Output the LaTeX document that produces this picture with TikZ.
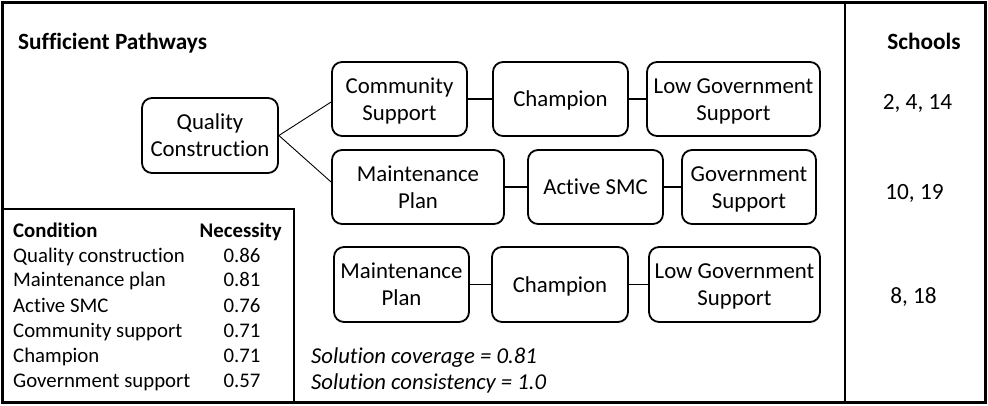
\documentclass[tikz,border=0pt]{standalone}
\usepackage{fontspec}
\setmainfont{Carlito}[Ligatures=NoCommon]
\newcommand\bs{\rule[-4.5pt]{0pt}{24.5pt}}
\begin{document}
\begin{tikzpicture}[x=1pt,y=-1pt,
  box/.style={draw, line width=1.8pt, rounded corners=10pt, align=center, inner sep=0pt,
    font=\fontsize{22.8}{27}\selectfont, minimum height=74pt},
  link/.style={line width=1.8pt},
  thinlink/.style={line width=0.9pt},
  frame/.style={line width=2.6pt},
  txt/.style={inner sep=0pt, font=\fontsize{20.8}{25}\selectfont},
  bigtxt/.style={inner sep=0pt, font=\fontsize{23.3}{27}\selectfont}]
\useasboundingbox (0,0) rectangle (988,406);
% frame
\draw[frame] (2.5,2.5) rectangle (985.5,402.5);
\draw[frame] (845,2.5) -- (845,402.5);
\draw[frame] (2.5,209) -- (294,209) -- (294,402.5);
% title
\node[bigtxt, font=\fontsize{23.3}{27}\selectfont\bfseries, anchor=base west] (title) at (18,50) {Sufficient Pathways};
\node[bigtxt, font=\fontsize{23.3}{27}\selectfont\bfseries, anchor=base] (schools) at (924,50) {Schools};
\node[bigtxt, anchor=base] (s1) at (917.5,110) {2, 4, 14};
\node[bigtxt, anchor=base] (s2) at (914.5,200) {10, 19};
\node[bigtxt, anchor=base] (s3) at (913.5,303) {8, 18};
% boxes
\node[box, minimum width=136pt, minimum height=75pt] (qc) at (210,135.5) {\bs Quality\\\bs Construction};
\node[box, minimum width=135pt] (cs) at (399.5,99) {\bs Community\\\bs Support};
\node[box, minimum width=135pt] (ch1) at (560.5,99) {\bs Champion};
\node[box, minimum width=173pt] (lg1) at (733.5,99) {\bs Low Government\\\bs Support};
\node[box, minimum width=172pt] (mp2) at (418,187) {\bs Maintenance\\\bs Plan};
\node[box, minimum width=135pt] (as) at (595.5,187) {\bs Active SMC};
\node[box, minimum width=134pt] (gs) at (749,187) {\bs Government\\\bs Support};
\node[box, minimum width=135pt, minimum height=75pt] (mp3) at (401.5,284.5) {\bs Maintenance\\\bs Plan};
\node[box, minimum width=136pt, minimum height=75pt] (ch3) at (560,284.5) {\bs Champion};
\node[box, minimum width=171pt, minimum height=75pt] (lg3) at (734.5,284.5) {\bs Low Government\\\bs Support};
% connectors
\draw[thinlink] (qc.east) -- ([yshift=-3pt]cs.west);
\draw[thinlink] (qc.east) -- ([yshift=5pt]mp2.west);
\draw[link] (cs) -- (ch1);
\draw[link] (ch1) -- (lg1);
\draw[link] (mp2) -- (as);
\draw[link] (as) -- (gs);
\draw[link] (mp3) -- (ch3);
\draw[link] (ch3) -- (lg3);
% table
\node[txt, font=\fontsize{20.8}{25}\selectfont\bfseries, anchor=base west] (hc) at (13,237) {Condition};
\node[txt, font=\fontsize{20.8}{25}\selectfont\bfseries, anchor=base east] (hn) at (282,237) {Necessity};
\node[txt, anchor=base west] (c1) at (13,262) {Quality construction};
\node[txt, anchor=base west] (c2) at (13,287) {Maintenance plan};
\node[txt, anchor=base west] (c3) at (13,312) {Active SMC};
\node[txt, anchor=base west] (c4) at (13,337) {Community support};
\node[txt, anchor=base west] (c5) at (13,362) {Champion};
\node[txt, anchor=base west] (c6) at (13,387) {Government support};
\node[txt, anchor=base] (v1) at (242,262) {0.86};
\node[txt, anchor=base] (v2) at (242,287) {0.81};
\node[txt, anchor=base] (v3) at (242,312) {0.76};
\node[txt, anchor=base] (v4) at (242,337) {0.71};
\node[txt, anchor=base] (v5) at (242,362) {0.71};
\node[txt, anchor=base] (v6) at (242,387) {0.57};
% solution
\node[txt, font=\fontsize{22.7}{26}\selectfont\itshape, anchor=base west] (sc1) at (311,363) {Solution coverage = 0.81};
\node[txt, font=\fontsize{22.7}{26}\selectfont\itshape, anchor=base west] (sc2) at (311,389) {Solution consistency = 1.0};
\end{tikzpicture}
\end{document}
